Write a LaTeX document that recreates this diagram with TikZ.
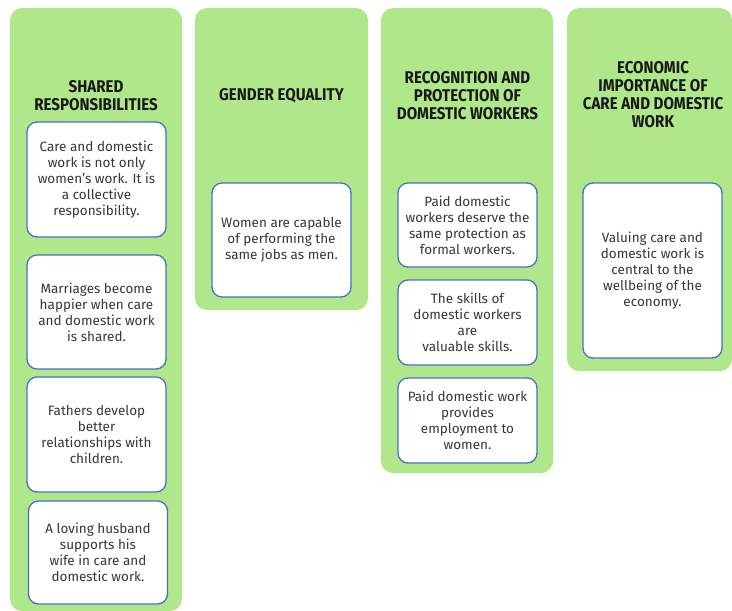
\documentclass[tikz,border=0pt]{standalone}
\usepackage{fontspec}
\setmainfont{Fira Sans}
\newfontfamily\headfont{Fira Sans}[FakeStretch=0.89]
\definecolor{colgreen}{RGB}{176,231,139}
\definecolor{cardblue}{RGB}{68,114,196}
\definecolor{bodygray}{RGB}{55,55,55}
\tikzset{
  column/.style={fill=colgreen, rounded corners=12pt},
  heading/.style={font=\headfont\bfseries\fontsize{17}{18}\selectfont, align=center, text=black!90},
  card/.style={draw=cardblue, line width=1.3pt, fill=white, rounded corners=10pt,
    minimum width=139pt, inner sep=0pt, align=center, text=bodygray,
    font=\fontsize{13.5}{16}\selectfont},
}

\begin{document}
\begin{tikzpicture}[x=1pt,y=-1pt]
  \useasboundingbox (0,0) rectangle (732,611);
  % green columns
  \foreach \xa/\xb/\yb in {10/182/611, 195/368/310, 381/553/473, 567/732/371}{
    \fill[column] (\xa,8) rectangle (\xb,\yb);
  }

  % shared responsibilities
  \node[heading] (head1) at (96,96) {SHARED\\RESPONSIBILITIES};
  \node[card, minimum height=115pt] (care1) at (96.5,179.5) {Care and domestic\\work is not only\\women’s work. It is\\a collective\\responsibility.};
  \node[card, minimum height=114pt] (care2) at (96.5,312) {Marriages become\\happier when care\\and domestic work\\is shared.};
  \node[card, minimum height=115pt] (care3) at (96.5,434.5) {Fathers develop\\better\\relationships with\\children.};
  \node[card, minimum height=103pt] (care4) at (98,552.5) {A loving husband\\supports his\\wife in care and\\domestic work.};

  % gender equality
  \node[heading] (head2) at (281.5,96) {GENDER EQUALITY};
  \node[card, minimum height=114pt] (equal1) at (281.5,240) {Women are capable\\of performing the\\same jobs as men.};

  % domestic workers
  \node[heading] (head3) at (467.5,95.5) {RECOGNITION AND\\PROTECTION OF\\DOMESTIC WORKERS};
  \node[card, minimum height=84pt] (paid1) at (467.5,225) {Paid domestic\\workers deserve the\\same protection as\\formal workers.};
  \node[card, minimum height=85pt] (paid2) at (467.5,322.5) {The skills of\\domestic workers\\are\\valuable skills.};
  \node[card, minimum height=85pt] (paid3) at (467.5,420.5) {Paid domestic work\\provides\\employment to\\women.};

  % economic importance
  \node[heading] (head4) at (653,95) {ECONOMIC\\IMPORTANCE OF\\CARE AND DOMESTIC\\WORK};
  \node[card, minimum height=175pt] (econ1) at (652.5,270.5) {Valuing care and\\domestic work is\\central to the\\wellbeing of the\\economy.};
\end{tikzpicture}
\end{document}
